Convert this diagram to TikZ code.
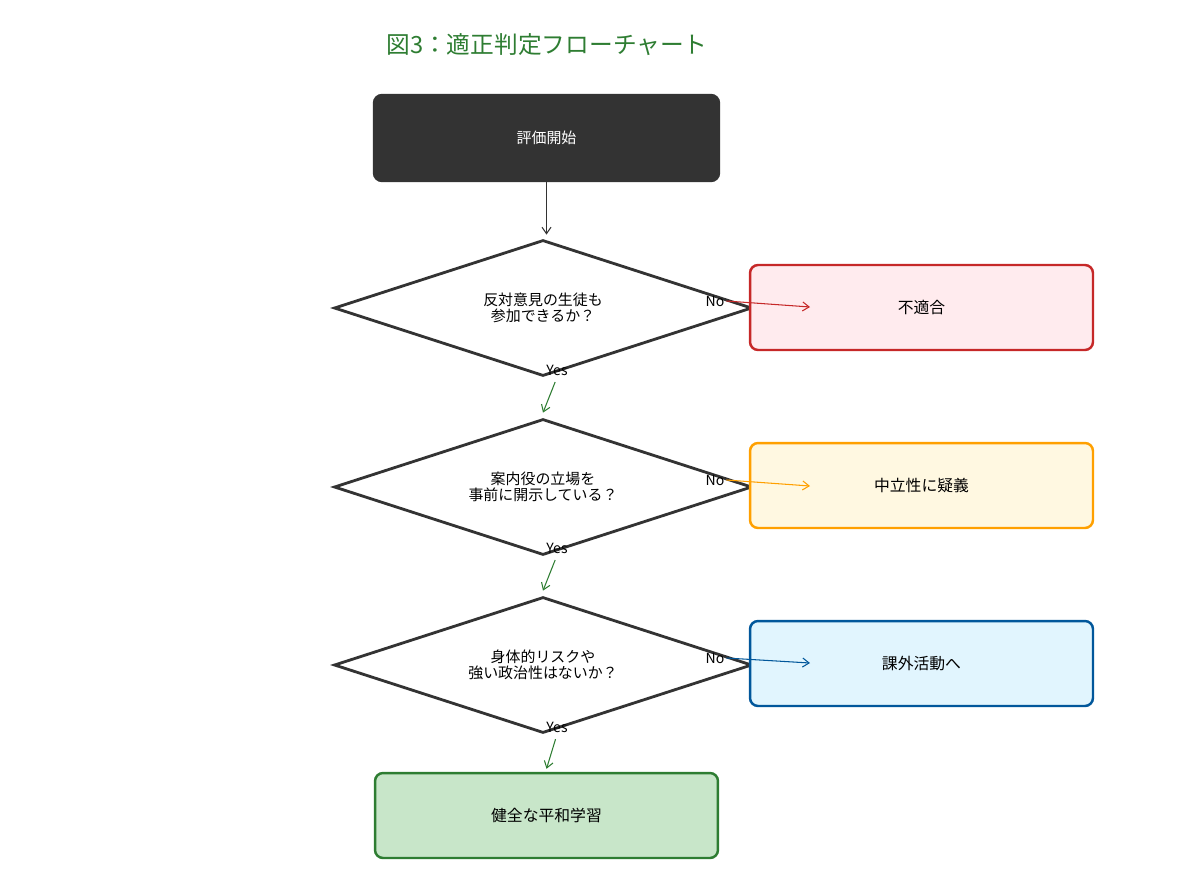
\documentclass[tikz,border=0pt]{standalone}
\usepackage{fontspec}
\setmainfont{Noto Sans CJK JP}
\usetikzlibrary{shapes.geometric,arrows.meta}
\definecolor{ink}{HTML}{333333}
\definecolor{ngred}{HTML}{C62828}
\definecolor{ngfill}{HTML}{FFEBEE}
\definecolor{warnline}{HTML}{FFA000}
\definecolor{warnfill}{HTML}{FFF8E1}
\definecolor{infoline}{HTML}{01579B}
\definecolor{infofill}{HTML}{E1F5FE}
\definecolor{okline}{HTML}{2E7D32}
\definecolor{okfill}{HTML}{C8E6C9}

\begin{document}
\begin{tikzpicture}[x=0.02cm,y=-0.02cm,
		box/.style={rectangle, rounded corners=0.16cm, line width=1.4pt, minimum width=6.86cm, minimum height=1.7cm, font=\fontsize{9}{11}\selectfont},
		ask/.style={diamond, aspect=3, draw=ink, line width=1.6pt, fill=white, minimum width=8.36cm, minimum height=2.72cm, inner sep=0pt, align=center, font=\fontsize{8.5}{9.2}\selectfont},
		tag/.style={inner sep=1pt, font=\fontsize{8}{9}\selectfont},
		link/.style={-{Straight Barb[length=1.3mm,width=1.8mm]}, line width=0.6pt}]
		\useasboundingbox (0,0) rectangle (1200,870);
		\node (title) at (547,45) [text=okline, font=\fontsize{13.5}{15}\selectfont] {図3：適正判定フローチャート};

		\node (start) at (546.5,138) [box, fill=ink, draw=ink, text=white, minimum width=6.9cm, minimum height=1.72cm, font=\fontsize{8.5}{10}\selectfont] {評価開始};
		\node (q1) at (543,308) [ask] {反対意見の生徒も\\参加できるか？};
		\node (q2) at (543,487) [ask] {案内役の立場を\\事前に開示している？};
		\node (q3) at (543,665) [ask] {身体的リスクや\\強い政治性はないか？};

		\node (ng) at (921.5,307.5) [box, fill=ngfill, draw=ngred] {不適合};
		\node (doubt) at (921.5,485.5) [box, fill=warnfill, draw=warnline] {中立性に疑義};
		\node (extra) at (921.5,663.5) [box, fill=infofill, draw=infoline] {課外活動へ};
		\node (ok) at (546.5,815.5) [box, fill=okfill, draw=okline] {健全な平和学習};

		\node (no1) at (715,301) [tag] {No};
		\node (no2) at (715,480) [tag] {No};
		\node (no3) at (715,658) [tag] {No};
		\node (yes1) at (557,370) [tag] {Yes};
		\node (yes2) at (557,548) [tag] {Yes};
		\node (yes3) at (557,727) [tag] {Yes};
		\coordinate (ngin) at (810,307);
		\coordinate (doubtin) at (810,486);
		\coordinate (extrain) at (810,663);

		\draw[link, draw=ink] (start.south) -- ([yshift=0.08cm]start.south |- q1.north);
		\draw[link, draw=ngred] (no1.east) -- (ngin);
		\draw[link, draw=warnline] (no2.east) -- (doubtin);
		\draw[link, draw=infoline] (no3.east) -- (extrain);
		\draw[link, draw=okline, shorten <=0.1cm] (yes1.south) -- ([yshift=0.1cm]q2.north);
		\draw[link, draw=okline, shorten <=0.1cm] (yes2.south) -- ([yshift=0.1cm]q3.north);
		\draw[link, draw=okline, shorten <=0.1cm] (yes3.south) -- ([yshift=0.06cm]ok.north);
\end{tikzpicture}
\end{document}
